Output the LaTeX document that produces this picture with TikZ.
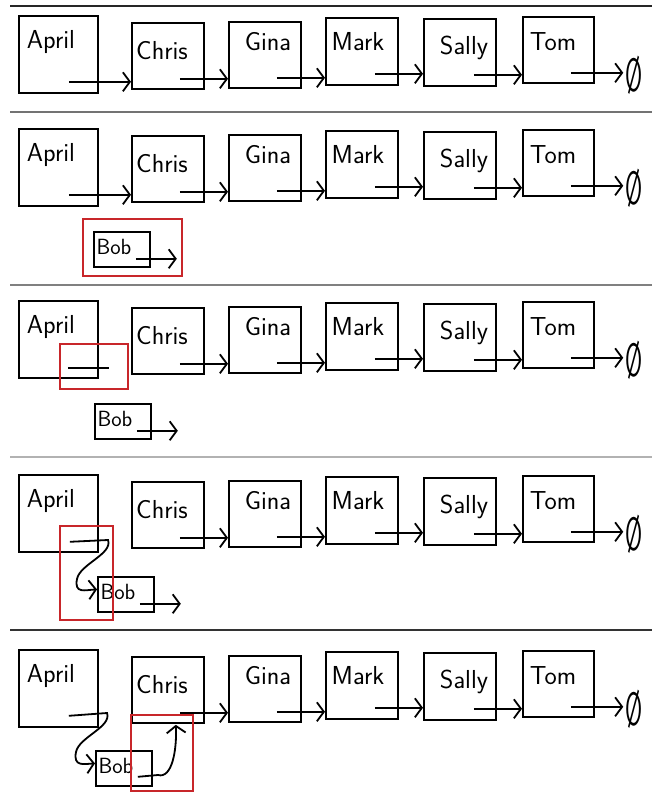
\documentclass[tikz,border=0pt]{standalone}
\usepackage{xcolor}
\usepackage{tikz}
\usetikzlibrary{arrows.meta, calc}
\definecolor{marker}{RGB}{200,38,42}

\begin{document}
\begin{tikzpicture}[x=1pt, y=-1pt,
    every node/.style={font=\sffamily\fontsize{26}{26}\selectfont, inner sep=0pt},
    cell/.style={rectangle, draw=black, line width=1.8pt, anchor=north west,
                 minimum width=72pt, minimum height=66pt},
    head/.style={cell, minimum width=79pt, minimum height=77pt},
    tail/.style={cell, minimum width=56pt, minimum height=35pt},
    small/.style={font=\sffamily\fontsize{22}{22}\selectfont},
    nil/.style={font=\sffamily\fontsize{36}{36}\selectfont},
    ptr/.style={line width=1.8pt, -{Straight Barb[length=7pt, width=19pt]}},
    wire/.style={line width=1.8pt},
    hilite/.style={draw=marker, line width=1.5pt},
    sep/.style={line width=1.6pt}
]
\useasboundingbox (0,0) rectangle (652,792);

% === Separators ===
\draw[sep, black!85] (10,6) -- (652,6);
\draw[sep, black!55] (10,112) -- (652,112);
\draw[sep, black!50] (10,285) -- (652,285);
\draw[sep, black!30] (10,457) -- (652,457);
\draw[sep, black!80] (10,630) -- (652,630);

% === List row, repeated in every panel ===
\foreach \p/\dy in {1/15, 2/128, 3/300, 4/474, 5/649} {
  \node[head] (april\p) at (18,\dy) {};
  \node[cell] (chris\p) at (131,7+\dy) {};
  \node[cell] (gina\p) at (228,6+\dy) {};
  \node[cell, minimum height=67pt] (mark\p) at (325,2+\dy) {};
  \node[cell, minimum height=67pt] (sally\p) at (423,3+\dy) {};
  \node[cell, minimum width=71pt] (tom\p) at (522,1+\dy) {};
  \node[nil] (null\p) at (634,60+\dy) {\scalebox{0.65}[1.3]{\O}};

  \node (aprilT\p) at (51,27+\dy) {April};
  \node (chrisT\p) at (162,36+\dy) {Chris};
  \node (ginaT\p) at (268,27+\dy) {Gina};
  \node (markT\p) at (358,27+\dy) {Mark};
  \node (sallyT\p) at (464,33+\dy) {Sally};
  \node (tomT\p) at (553,27+\dy) {Tom};

  \coordinate (c\p) at ($(chris\p.south east)+(-25,-11)$);
  \coordinate (g\p) at ($(gina\p.south east)+(-25,-11)$);
  \coordinate (m\p) at ($(mark\p.south east)+(-24,-12)$);
  \coordinate (s\p) at ($(sally\p.south east)+(-23,-12)$);
  \coordinate (t\p) at ($(tom\p.south east)+(-24,-11)$);
  \draw[ptr] (c\p) -- (c\p -| gina\p.west);
  \draw[ptr] (g\p) -- (g\p -| mark\p.west);
  \draw[ptr] (m\p) -- (m\p -| sally\p.west);
  \draw[ptr] (s\p) -- (s\p -| tom\p.west);
  \draw[ptr, shorten >=2pt] (t\p) -- (t\p -| null\p.west);
}

% === Panel 1: plain list ===
\coordinate (a1) at ($(april1.south east)+(-30,-12)$);
\draw[ptr] (a1) -- (a1 -| chris1.west);

% === Panel 2: new node Bob ===
\coordinate (a2) at ($(april2.south east)+(-30,-12)$);
\draw[ptr] (a2) -- (a2 -| chris2.west);
\node[tail] (bob2) at (93,231) {};
\node[small] (bobT2) at (114,247) {Bob};
\coordinate (b2) at ($(bob2.south east)+(-15,-9)$);
\coordinate (b2end) at ($(b2)+(41,0)$);
\draw[ptr] (b2) -- (b2end);
\draw[hilite] (83,219) rectangle (182,276);

% === Panel 3: April's link cut ===
\coordinate (a3) at ($(april3.south east)+(-31,-11)$);
\coordinate (a3end) at ($(a3)+(41,0)$);
\draw[wire] (a3) -- (a3end);
\node[tail] (bob3) at (94,403) {};
\node[small] (bobT3) at (115,419) {Bob};
\coordinate (b3) at ($(bob3.south east)+(-15,-9)$);
\coordinate (b3end) at ($(b3)+(41,0)$);
\draw[ptr] (b3) -- (b3end);
\draw[hilite] (60,344) rectangle (128,389);

% === Panel 4: April -> Bob ===
\node[tail] (bob4) at (97,576) {};
\node[small] (bobT4) at (118,592) {Bob};
\coordinate (a4) at ($(april4.south east)+(-29,-11)$);
\draw[ptr] (a4) -- (108,540) .. controls (113,554) and (80,564) .. (77,579)
    .. controls (74,594) and (85,590) .. ($(bob4.west)+(0,-5)$);
\coordinate (b4) at ($(bob4.south east)+(-15,-9)$);
\coordinate (b4end) at ($(b4)+(41,0)$);
\draw[ptr] (b4) -- (b4end);
\draw[hilite] (60,526) rectangle (113,620);

% === Panel 5: Bob -> Chris ===
\node[tail] (bob5) at (95,750) {};
\node[small] (bobT5) at (116,766) {Bob};
\coordinate (a5) at ($(april5.south east)+(-30,-12)$);
\draw[ptr] (a5) -- (107,713) .. controls (112,727) and (79,737) .. (76,752)
    .. controls (73,767) and (84,764) .. ($(bob5.west)+(0,-5)$);
\coordinate (b5) at ($(bob5.south east)+(-15,-10)$);
\draw[ptr] (b5) -- (158,775) .. controls (172,779) and (177,750)
    .. ($(chris5.south east)+(-29,1)$);
\draw[hilite] (131,715) rectangle (193,791);

\end{tikzpicture}
\end{document}
